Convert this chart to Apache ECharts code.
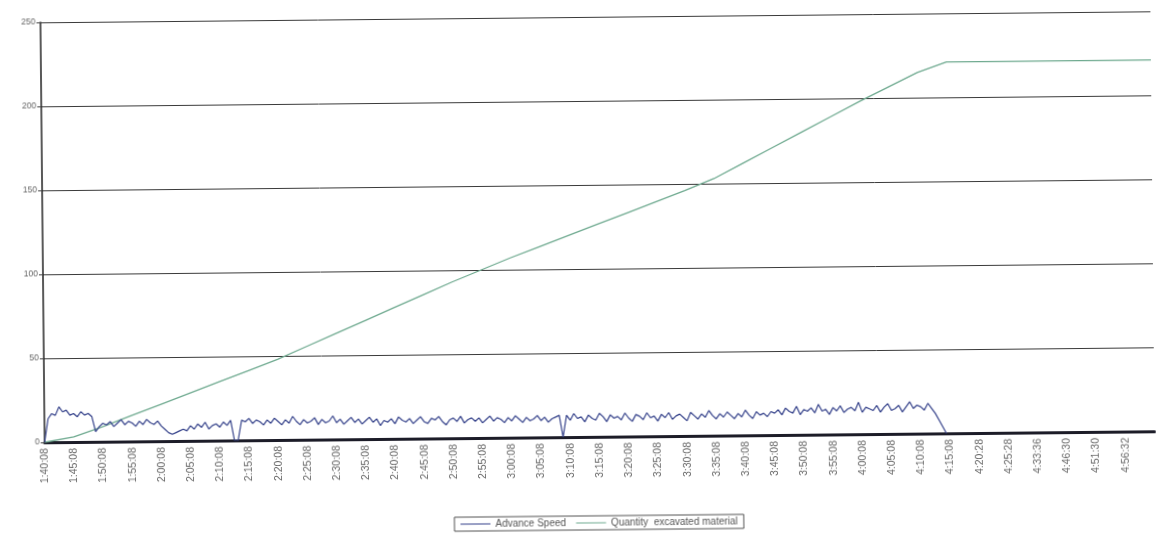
<!DOCTYPE html>
<html>
<head>
<meta charset="utf-8">
<script src="https://cdn.jsdelivr.net/npm/echarts@6/dist/echarts.min.js"></script>
<style>
  html, body { margin: 0; padding: 0; background: #ffffff; }
  #chart { width: 1156px; height: 550px; transform: rotate(-0.57deg); transform-origin: 578px 275px; }
</style>
</head>
<body>
<div id="chart"></div>
<script>
// Time labels printed under the axis, one every 8 samples
const tickLabels = [
  '1:40:08','1:45:08','1:50:08','1:55:08','2:00:08','2:05:08','2:10:08','2:15:08',
  '2:20:08','2:25:08','2:30:08','2:35:08','2:40:08','2:45:08','2:50:08','2:55:08',
  '3:00:08','3:05:08','3:10:08','3:15:08','3:20:08','3:25:08','3:30:08','3:35:08',
  '3:40:08','3:45:08','3:50:08','3:55:08','4:00:08','4:05:08','4:10:08','4:15:08',
  '4:20:28','4:25:28','4:33:36','4:46:30','4:51:30','4:56:32'
];
const samplesPerTick = 8;
const sampleCount = 305;

// Advance Speed, one value per sample
const advanceSpeed = [
  0, 14, 17, 16, 21, 18, 19, 16, 17, 15, 18, 16, 17, 15,
  6, 9, 11,
  10, 12, 9, 11, 13, 10, 12, 11, 9, 12, 10, 13, 11, 10, 12, 9,
  7, 5, 4, 5, 6, 7, 6,
  9, 7, 10, 8, 11, 7, 9, 10, 8, 11, 9, 12,
  0, 0,
  12, 11, 13, 10, 12, 11, 9, 12,
  10, 13, 11, 9, 12, 10, 14, 11,
  9, 12, 10, 11, 13, 9, 12, 10,
  11, 14, 10, 12, 9, 11, 13, 10,
  12, 9, 11, 13, 10, 12, 8, 11,
  10, 12, 9, 13, 11, 10, 12, 9,
  11, 13, 10, 9, 12, 11, 13, 10,
  8, 11, 12, 10, 13, 9, 11, 12,
  10, 12, 9, 11, 13, 10, 12, 11,
  9, 12, 10, 13, 11, 9, 12, 10,
  11, 13, 10, 12, 9, 11, 12, 13,
  0,
  13, 10, 14, 11, 12, 9, 13, 11,
  10, 14, 12, 9, 13, 11, 12, 10,
  14, 11, 9, 13, 12, 10, 14, 11,
  12, 9, 13, 11, 14, 10, 12, 13,
  11, 9, 14, 12, 10, 13, 11, 15,
  12, 10, 13, 11, 14, 12, 10, 13,
  11, 15, 12, 10, 14, 12, 13, 11, 14,
  13, 15, 12, 16, 14, 13, 17, 12,
  15, 14, 16, 13, 18, 14, 15, 12,
  16, 14, 17, 13, 15, 16, 14, 19,
  13, 16, 15, 14, 17, 13, 16, 18,
  14, 15, 17, 13, 16, 19, 15, 17,
  16, 14, 18, 15,
  12, 8, 4, 0
];

// Quantity excavated material, read every 8 samples (last one at the axis end)
const quantityExcavated = [
  0, 3, 9, 15.5, 22, 28.5, 35, 41.5,
  48, 55.5, 63, 70.5, 78, 85.5, 93, 100,
  107, 113.5, 120, 126.5, 133, 139.5, 146, 153,
  162, 171, 180, 189, 198, 206.5, 215, 221,
  221, 221, 221, 221, 221, 221, 221
];

const categories = [];
for (let i = 0; i < sampleCount; i++) {
  const k = i / samplesPerTick;
  categories.push(i % samplesPerTick === 0 && k < tickLabels.length ? tickLabels[k] : '');
}
const quantityData = quantityExcavated.map((v, k) => [k * samplesPerTick, v]);

const chart = echarts.init(document.getElementById('chart'), null, { renderer: 'canvas' });
chart.setOption({
  animation: false,
  backgroundColor: '#ffffff',
  textStyle: { fontFamily: 'Liberation Sans, Arial, sans-serif' },
  grid: { left: 43, right: 3, top: 17, bottom: 113, containLabel: false },
  legend: {
    left: 452,
    top: 516,
    icon: 'rect',
    itemWidth: 30,
    itemHeight: 1,
    itemGap: 10,
    padding: [2, 6],
    borderColor: '#555',
    borderWidth: 1,
    textStyle: { fontSize: 10, color: '#555' },
    data: ['Advance Speed', 'Quantity  excavated material']
  },
  xAxis: {
    type: 'category',
    data: categories,
    boundaryGap: false,
    axisLine: { lineStyle: { color: '#1c1c28', width: 3 } },
    axisTick: { show: false },
    axisLabel: {
      interval: (i, v) => v !== '',
      rotate: 90,
      fontSize: 10.5,
      color: '#666',
      margin: 6
    },
    splitLine: { show: false }
  },
  yAxis: {
    type: 'value',
    min: 0,
    max: 250,
    interval: 50,
    axisLine: { show: true, lineStyle: { color: '#222', width: 1.5 } },
    axisTick: { show: true, length: 4, lineStyle: { color: '#444' } },
    axisLabel: { fontSize: 8.5, color: '#666', margin: 5 },
    splitLine: { lineStyle: { color: '#3a3a3a', width: 1 } }
  },
  series: [
    {
      name: 'Advance Speed',
      type: 'line',
      data: advanceSpeed,
      showSymbol: false,
      lineStyle: { color: '#34418a', width: 1.2 },
      itemStyle: { color: '#34418a' },
      z: 3
    },
    {
      name: 'Quantity  excavated material',
      type: 'line',
      data: quantityData,
      showSymbol: false,
      lineStyle: { color: '#6faa90', width: 1.3 },
      itemStyle: { color: '#6faa90' },
      z: 2
    }
  ]
});
</script>
</body>
</html>
